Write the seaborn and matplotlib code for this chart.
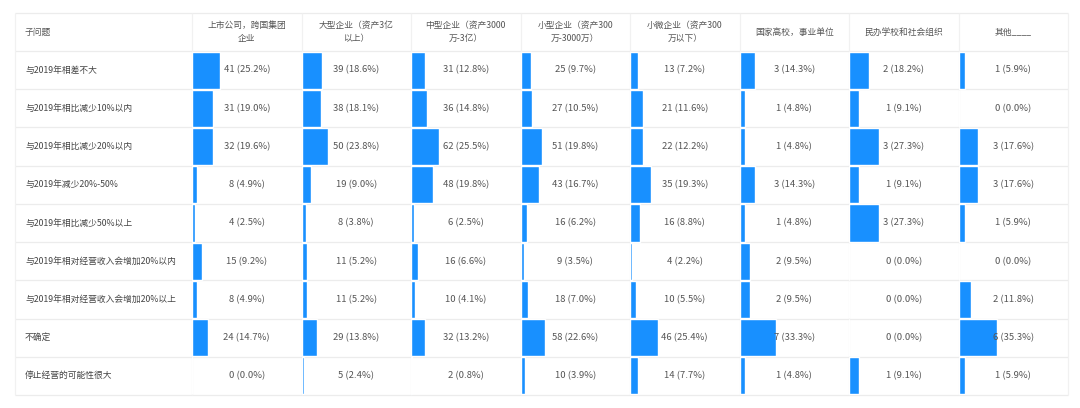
import matplotlib
matplotlib.use("Agg")
import matplotlib.pyplot as plt
import seaborn as sns
import pandas as pd

# ---------------- data ----------------
row_labels = [
    "与2019年相差不大",
    "与2019年相比减少10%以内",
    "与2019年相比减少20%以内",
    "与2019年减少20%-50%",
    "与2019年相比减少50%以上",
    "与2019年相对经营收入会增加20%以内",
    "与2019年相对经营收入会增加20%以上",
    "不确定",
    "停止经营的可能性很大",
]

col_headers = [
    "上市公司，跨国集团\n企业",
    "大型企业（资产3亿\n以上）",
    "中型企业（资产3000\n万-3亿）",
    "小型企业（资产300\n万-3000万）",
    "小微企业（资产300\n万以下）",
    "国家高校，事业单位",
    "民办学校和社会组织",
    "其他____",
]

counts_listed = [41, 31, 32, 8, 4, 15, 8, 24, 0]
pcts_listed = [25.2, 19.0, 19.6, 4.9, 2.5, 9.2, 4.9, 14.7, 0.0]
counts_large = [39, 38, 50, 19, 8, 11, 11, 29, 5]
pcts_large = [18.6, 18.1, 23.8, 9.0, 3.8, 5.2, 5.2, 13.8, 2.4]
counts_medium = [31, 36, 62, 48, 6, 16, 10, 32, 2]
pcts_medium = [12.8, 14.8, 25.5, 19.8, 2.5, 6.6, 4.1, 13.2, 0.8]
counts_small = [25, 27, 51, 43, 16, 9, 18, 58, 10]
pcts_small = [9.7, 10.5, 19.8, 16.7, 6.2, 3.5, 7.0, 22.6, 3.9]
counts_micro = [13, 21, 22, 35, 16, 4, 10, 46, 14]
pcts_micro = [7.2, 11.6, 12.2, 19.3, 8.8, 2.2, 5.5, 25.4, 7.7]
counts_public = [3, 1, 1, 3, 1, 2, 2, 7, 1]
pcts_public = [14.3, 4.8, 4.8, 14.3, 4.8, 9.5, 9.5, 33.3, 4.8]
counts_private = [2, 1, 3, 1, 3, 0, 0, 0, 1]
pcts_private = [18.2, 9.1, 27.3, 9.1, 27.3, 0.0, 0.0, 0.0, 9.1]
counts_other = [1, 0, 3, 3, 1, 0, 2, 6, 1]
pcts_other = [5.9, 0.0, 17.6, 17.6, 5.9, 0.0, 11.8, 35.3, 5.9]

all_counts = [counts_listed, counts_large, counts_medium, counts_small,
              counts_micro, counts_public, counts_private, counts_other]
all_pcts = [pcts_listed, pcts_large, pcts_medium, pcts_small,
            pcts_micro, pcts_public, pcts_private, pcts_other]

# ---------------- style ----------------
sns.set_theme(style="white")
plt.rcParams["font.family"] = ["Noto Sans CJK SC", "DejaVu Sans"]

BLUE = "#1890FF"
TXT = "#555555"
LINE = "#ececec"
FS = 6.8
FS_LAB = 6.3

W, H = 1080, 408
fig = plt.figure(figsize=(W / 100, H / 100), dpi=100)
fig.patch.set_facecolor("white")

bg = fig.add_axes([0, 0, 1, 1])
bg.set_xlim(0, W)
bg.set_ylim(H, 0)
bg.axis("off")

L, R = 15, 1068
TOP, HB, BOT = 13, 51, 395
X0 = 192
ncol = len(col_headers)
nrow = len(row_labels)
CW = (R - X0) / ncol
RH = (BOT - HB) / nrow

# grid lines
ys = [TOP] + [HB + k * RH for k in range(nrow + 1)]
bg.hlines(ys, L, R, color=LINE, lw=0.9, zorder=1)
xs = [L] + [X0 + j * CW for j in range(ncol + 1)]
bg.vlines(xs, TOP, BOT, color="#f1f1f1", lw=0.9, zorder=1)

# header
hy = (TOP + HB) / 2
bg.text(25, hy, "子问题", ha="left", va="center", fontsize=FS_LAB, color=TXT)
for j, h in enumerate(col_headers):
    bg.text(X0 + (j + 0.5) * CW, hy, h, ha="center", va="center",
            fontsize=FS_LAB, color=TXT, linespacing=1.6)

# row labels
for i, lab in enumerate(row_labels):
    bg.text(25, HB + (i + 0.5) * RH, lab, ha="left", va="center",
            fontsize=FS_LAB, color="#444444")

# bars per column
for j in range(ncol):
    ax = fig.add_axes([(X0 + j * CW) / W, (H - BOT) / H, CW / W, (BOT - HB) / H])
    ax.set_facecolor("none")
    df = pd.DataFrame({"row": row_labels, "pct": all_pcts[j]})
    sns.barplot(data=df, x="pct", y="row", orient="h", color=BLUE,
                saturation=1, width=0.97, ax=ax, zorder=2)
    ax.set_xlim(0, 100)
    ax.set_ylim(nrow - 0.5, -0.5)
    for i, (c, p) in enumerate(zip(all_counts[j], all_pcts[j])):
        ax.text(50, i, f"{c} ({p:.1f}%)", ha="center", va="center",
                fontsize=FS, color=TXT, zorder=3)
    ax.set_xlabel("")
    ax.set_ylabel("")
    ax.set_xticks([])
    ax.set_yticks([])
    for s in ax.spines.values():
        s.set_visible(False)

fig.savefig("out.png", dpi=100, facecolor="white")
